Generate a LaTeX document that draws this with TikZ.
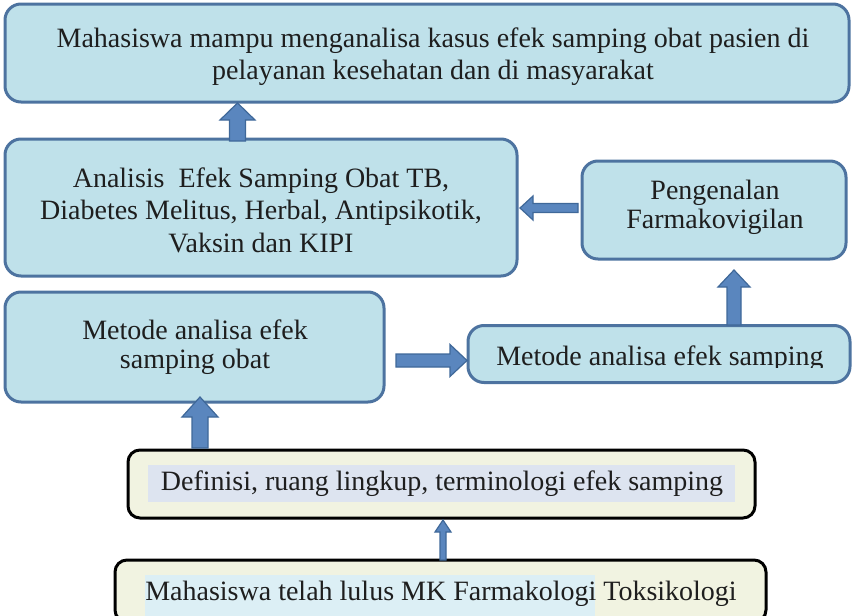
\documentclass[tikz,border=0pt]{standalone}
\usepackage{fontspec}
\setmainfont{Liberation Serif}
\usetikzlibrary{calc}
\definecolor{boxfill}{HTML}{BFE1EA}
\definecolor{boxline}{HTML}{4D73A0}
\definecolor{arrfill}{HTML}{5A86BE}
\definecolor{arrline}{HTML}{3F6899}
\definecolor{cream}{HTML}{F1F3E1}
\definecolor{hilite}{HTML}{DDE4F0}
\definecolor{hilitetwo}{HTML}{DCEFF5}
\definecolor{txt}{HTML}{1E1E1E}
% block arrow: #1 start, #2 end, #3 shaft half width, #4 head half width, #5 head length
\newcommand\blockarrow[5]{%
  \coordinate (#1#2h) at ($(#2)!#5!(#1)$);
  \draw[arrowbody] ($(#1)!#3!90:(#2)$) -- ($(#1#2h)!#3!90:(#2)$) -- ($(#1#2h)!#4!90:(#2)$) -- (#2)
    -- ($(#1#2h)!#4!-90:(#2)$) -- ($(#1#2h)!#3!-90:(#2)$) -- ($(#1)!#3!-90:(#2)$) -- cycle;}
\begin{document}
\begin{tikzpicture}[x=1pt,y=-1pt,
  box/.style={draw=boxline, line width=3pt, fill=boxfill, rounded corners=16pt, inner sep=0pt},
  cbox/.style={draw=black, line width=3pt, fill=cream, rounded corners=12pt, inner sep=0pt},
  label/.style={inner sep=0pt, text=txt, align=center, font=\fontsize{28}{32}\selectfont},
  arrowbody/.style={draw=arrline, fill=arrfill, line width=1.2pt, line join=miter},
]
\useasboundingbox (0,0) rectangle (852,616);

\node[box, minimum width=844pt, minimum height=98pt] (goal) at (427,53) {};
\node[label] (goalt) at (433,57) {Mahasiswa mampu menganalisa kasus efek samping obat pasien di\\ pelayanan kesehatan dan di masyarakat};

\node[box, minimum width=512pt, minimum height=137pt] (ana) at (261,207.5) {};
\node[label, font=\fontsize{28}{32.5}\selectfont] (anat) at (261,210) {Analisis\ \ Efek Samping Obat TB,\\Diabetes Melitus, Herbal, Antipsikotik,\\Vaksin dan KIPI};

\node[box, minimum width=264pt, minimum height=98pt] (peng) at (714,210) {};
\node[label, font=\fontsize{28}{29}\selectfont] (pengt) at (715,207) {Pengenalan\\Farmakovigilan};

\node[box, minimum width=379pt, minimum height=110pt] (mobat) at (194.5,347) {};
\node[label, font=\fontsize{28}{29}\selectfont] (mobatt) at (195,347) {Metode analisa efek\\samping obat};

\node[box, minimum width=382pt, minimum height=57pt] (mefek) at (659,354) {};
\begin{scope}
  \clip (470,330) rectangle (848,367);
  \node[label, anchor=base] (mefekt) at (660,365) {Metode analisa efek samping};
\end{scope}

\node[cbox, minimum width=627pt, minimum height=68pt] (def) at (441.5,484) {};
\fill[hilite] (148,465) rectangle (735,502);
\node[label, anchor=base] (deft) at (442,490) {Definisi, ruang lingkup, terminologi efek samping};

\node[cbox, minimum width=651pt, minimum height=62pt] (lulus) at (440.5,591) {};
\fill[hilitetwo] (145,575) rectangle (595,619);
\begin{scope}
  \clip (120,565) rectangle (762,605);
  \node[label, anchor=base] (lulust) at (441,600) {Mahasiswa telah lulus MK Farmakologi Toksikologi};
\end{scope}

\coordinate (a1s) at (237.5,141); \coordinate (a1e) at (237.5,103);
\coordinate (a2s) at (578,208);   \coordinate (a2e) at (520,208);
\coordinate (a3s) at (396,360.5); \coordinate (a3e) at (467,360.5);
\coordinate (a4s) at (734,325);   \coordinate (a4e) at (734,270);
\coordinate (a5s) at (200,448);   \coordinate (a5e) at (200,397);
\coordinate (a6s) at (443,560);   \coordinate (a6e) at (443,520);

\blockarrow{a1s}{a1e}{8pt}{17.5pt}{17pt}
\blockarrow{a2s}{a2e}{4.5pt}{12pt}{13pt}
\blockarrow{a3s}{a3e}{6.5pt}{16pt}{17pt}
\blockarrow{a4s}{a4e}{7pt}{16pt}{17pt}
\blockarrow{a5s}{a5e}{8pt}{18pt}{20pt}
\blockarrow{a6s}{a6e}{3pt}{8pt}{12pt}
\end{tikzpicture}
\end{document}
